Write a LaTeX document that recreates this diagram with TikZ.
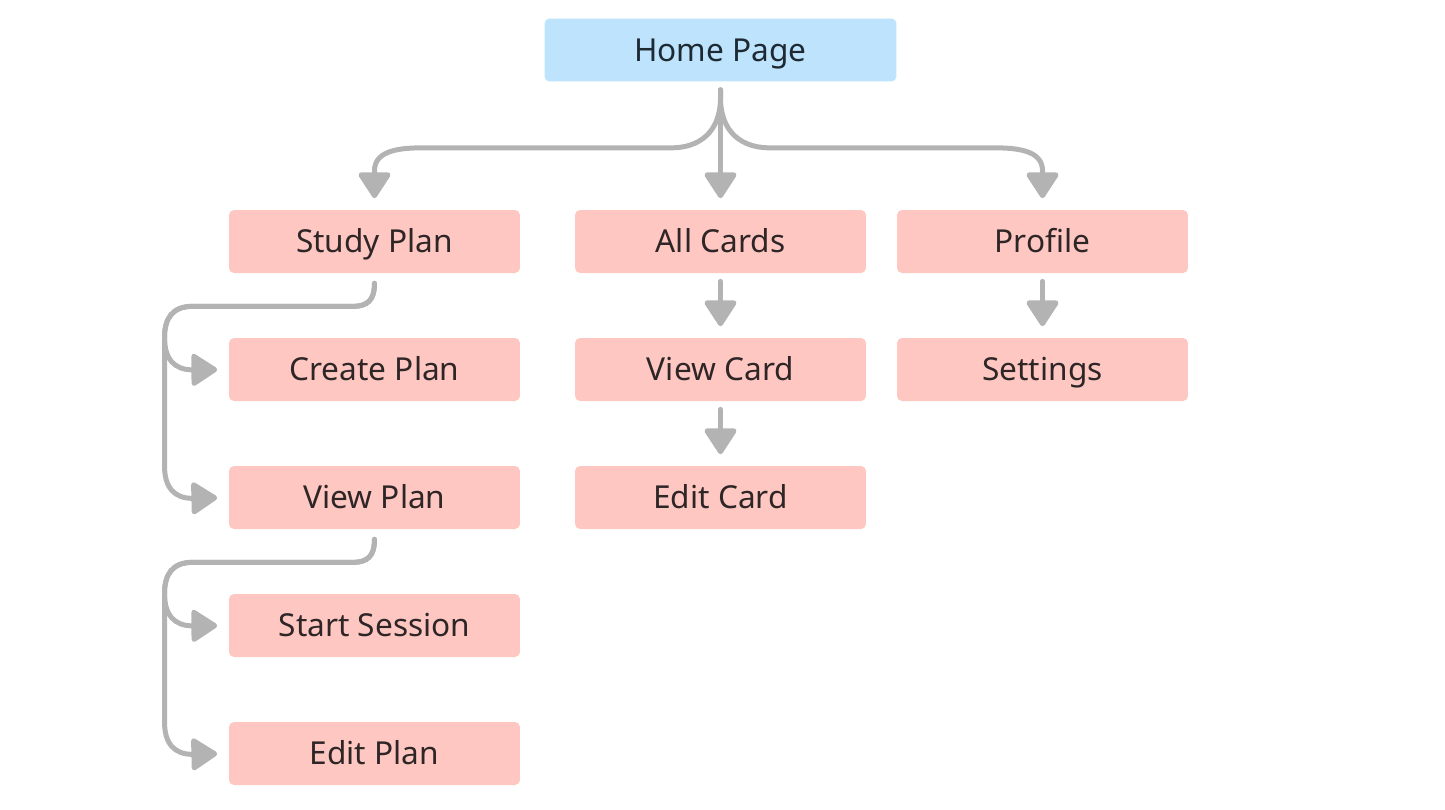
\documentclass[tikz,border=0pt]{standalone}
\usepackage{fontspec}
\setmainfont{Noto Sans}
\usepackage{xcolor}
\usetikzlibrary{arrows.meta}

\definecolor{homeblue}{HTML}{BEE3FD}
\definecolor{pagepink}{HTML}{FFC7C2}
\definecolor{linegray}{HTML}{B3B3B3}
\definecolor{inkdark}{HTML}{2E2626}
\definecolor{inkblue}{HTML}{1E2A33}

\begin{document}
\begin{tikzpicture}[x=0.02cm,y=-0.02cm,
    page/.style={rectangle,rounded corners=0.1cm,minimum width=5.82cm,
      minimum height=1.26cm,fill=pagepink,text=inkdark,
      text height=0.455cm,text depth=0pt,
      font=\fontsize{18}{22}\selectfont},
    conn/.style={linegray,line width=0.1cm,line cap=round,
      shorten >=0.23cm,-{Triangle[width=0.7cm,length=0.56cm,round]}}]
        \useasboundingbox (0,0) rectangle (1445,809);

        %------------------
        % ページ
        %------------------

        \node[page,fill=homeblue,text=inkblue,minimum width=7.04cm] (home) at (720.5,50) {Home Page};

        % 1段目
        \node[page] (study) at (374.5,241.5) {Study Plan};
        \node[page] (cards) at (720.5,241.5) {All Cards};
        \node[page] (profile) at (1042.5,241.5) {Profile};

        % 2段目以降
        \node[page] (create) at (374.5,369.5) {Create Plan};
        \node[page] (viewcard) at (720.5,369.5) {View Card};
        \node[page] (settings) at (1042.5,369.5) {Settings};
        \node[page] (viewplan) at (374.5,497.5) {View Plan};
        \node[page] (editcard) at (720.5,497.5) {Edit Card};
        \node[page] (session) at (374.5,625.5) {Start Session};
        \node[page] (editplan) at (374.5,753.5) {Edit Plan};

        %------------------
        % 矢印
        %------------------

        % Home Page から分岐
        \draw[conn] ([yshift=-0.16cm]home.south) -- ++(0,8)
          .. controls +(0,35) and +(27,0) .. ++(-49,50) -- ++(-250,0)
          .. controls +(-28,0) and +(0,-18) .. ++(-47,23) -- (study.north);
        \draw[conn] ([yshift=-0.16cm]home.south) -- (cards.north);
        \draw[conn] ([yshift=-0.16cm]home.south) -- ++(0,8)
          .. controls +(0,35) and +(-27,0) .. ++(49,50) -- ++(226,0)
          .. controls +(28,0) and +(0,-18) .. ++(47,23) -- (profile.north);

        % Study Plan
        \draw[conn] ([yshift=-0.2cm]study.south)
          .. controls +(0,17) and +(15,0) .. ++(-22,23) -- ++(-160,0)
          .. controls +(-20,0) and +(0,-19) .. ++(-28,31)
          .. controls +(0,22) and +(-18,0) .. ++(28,32.5) -- (create.west);
        \draw[conn] ([yshift=-0.2cm]study.south)
          .. controls +(0,17) and +(15,0) .. ++(-22,23) -- ++(-160,0)
          .. controls +(-20,0) and +(0,-19) .. ++(-28,31) -- ++(0,128.5)
          .. controls +(0,22) and +(-18,0) .. ++(28,32.5) -- (viewplan.west);

        % View Plan
        \draw[conn] ([yshift=-0.2cm]viewplan.south)
          .. controls +(0,17) and +(15,0) .. ++(-22,23) -- ++(-160,0)
          .. controls +(-20,0) and +(0,-19) .. ++(-28,31)
          .. controls +(0,22) and +(-18,0) .. ++(28,32.5) -- (session.west);
        \draw[conn] ([yshift=-0.2cm]viewplan.south)
          .. controls +(0,17) and +(15,0) .. ++(-22,23) -- ++(-160,0)
          .. controls +(-20,0) and +(0,-19) .. ++(-28,31) -- ++(0,128.5)
          .. controls +(0,22) and +(-18,0) .. ++(28,32.5) -- (editplan.west);

        % 縦の矢印
        \draw[conn] ([yshift=-0.16cm]cards.south) -- (viewcard.north);
        \draw[conn] ([yshift=-0.16cm]viewcard.south) -- (editcard.north);
        \draw[conn] ([yshift=-0.16cm]profile.south) -- (settings.north);
      \end{tikzpicture}
\end{document}
